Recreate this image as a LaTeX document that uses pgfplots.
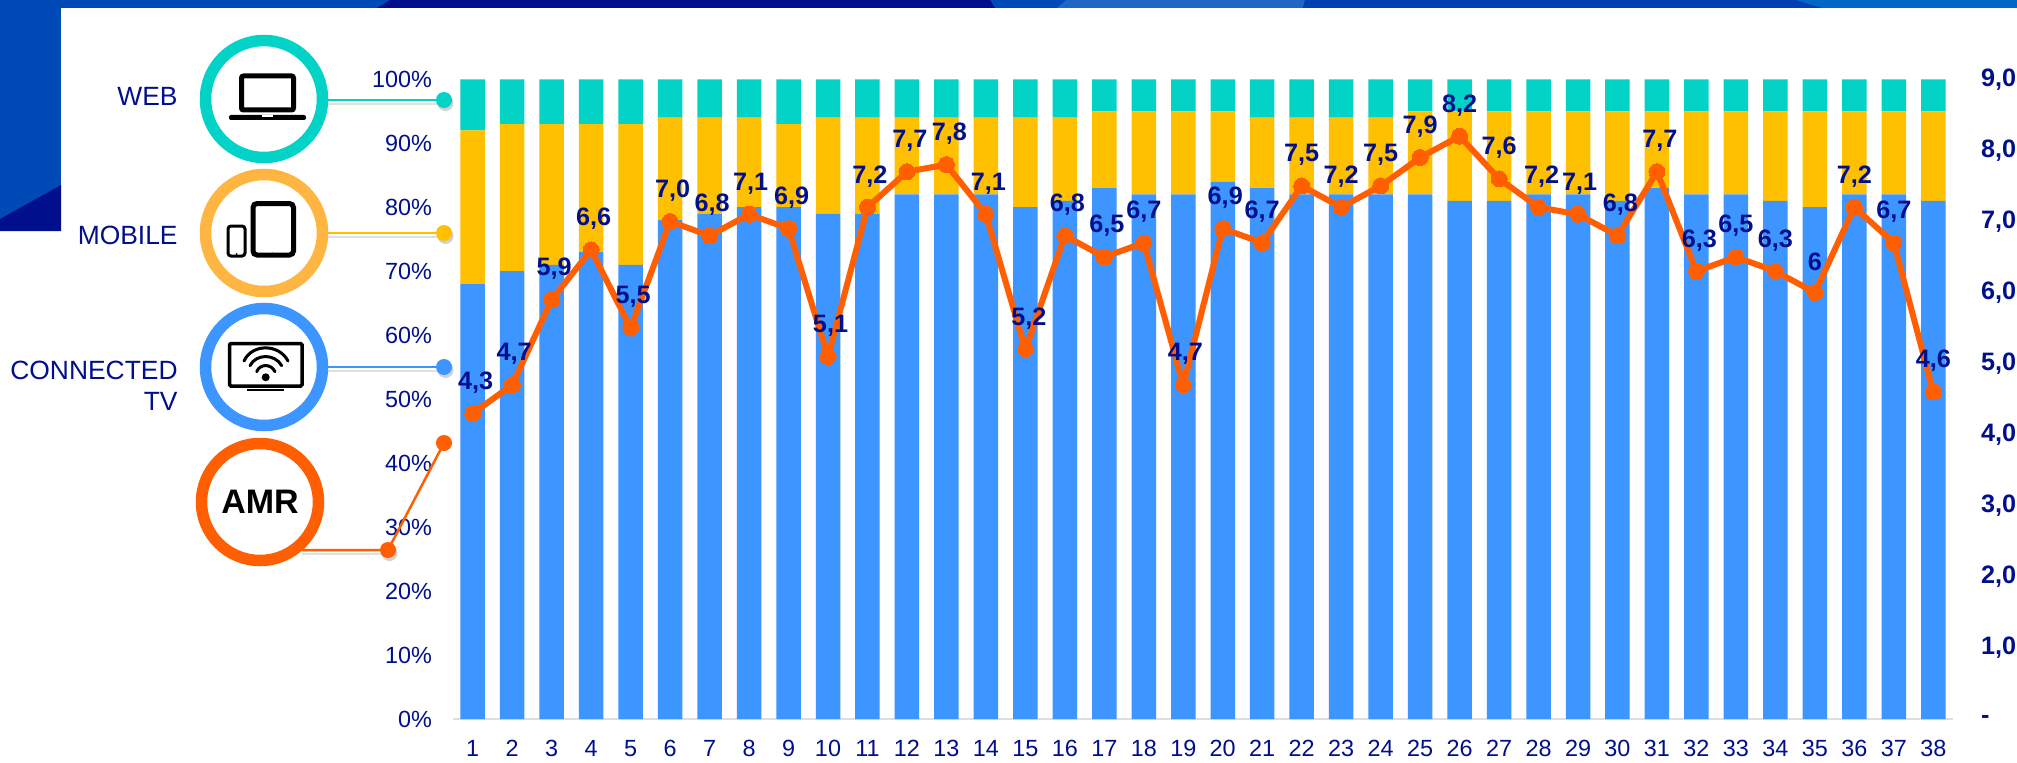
\documentclass[border=0pt]{standalone}
\usepackage{pgfplots}
\usepackage{pgfplotstable}
\usepackage{fontspec}
\setmainfont{Liberation Sans}
\pgfplotsset{compat=1.18}
\definecolor{cteal}{HTML}{03D2C6}
\definecolor{cyel}{HTML}{FFC000}
\definecolor{cblue}{HTML}{3D95FF}
\definecolor{corg}{HTML}{FF5F00}
\definecolor{cring}{HTML}{FFB541}
\definecolor{cnavy}{HTML}{000F8C}
\definecolor{bgA}{HTML}{004AB8}
\definecolor{bgB}{HTML}{000F8C}
\definecolor{bgC}{HTML}{2066C4}
\definecolor{bgD}{HTML}{0040B0}
\definecolor{bgE}{HTML}{0066C8}
\pgfplotstableread{
n blue mobile web amr dx lbl
1 68 24 8 4.3 1.5 4,3
2 70 23 7 4.7 1.0 4,7
3 71 22 7 5.9 1.25 5,9
4 73 20 7 6.6 1.25 6,6
5 71 22 7 5.5 1.25 5,5
6 78 16 6 7.0 1.25 7,0
7 79 15 6 6.8 1.25 6,8
8 80 14 6 7.1 0.75 7,1
9 80 13 7 6.9 1.5 6,9
10 79 15 6 5.1 1.25 5,1
11 79 15 6 7.2 1.25 7,2
12 82 12 6 7.7 1.5 7,7
13 82 12 6 7.8 1.5 7,8
14 82 12 6 7.1 1.25 7,1
15 80 14 6 5.2 1.75 5,2
16 81 13 6 6.8 1.25 6,8
17 83 12 5 6.5 1.25 6,5
18 82 13 5 6.7 0 6,7
19 82 13 5 4.7 1.0 4,7
20 84 11 5 6.9 1.25 6,9
21 83 11 6 6.7 0 6,7
22 82 12 6 7.5 0 7,5
23 82 12 6 7.2 0 7,2
24 82 12 6 7.5 0 7,5
25 82 13 5 7.9 0 7,9
26 81 14 5 8.2 0 8,2
27 81 14 5 7.6 0 7,6
28 82 13 5 7.2 1.5 7,2
29 82 13 5 7.1 0.75 7,1
30 81 14 5 6.8 1.5 6,8
31 83 12 5 7.7 1.5 7,7
32 82 13 5 6.3 1.5 6,3
33 82 13 5 6.5 0 6,5
34 81 14 5 6.3 0 6,3
35 80 15 5 6 0 6
36 82 13 5 7.2 0 7,2
37 82 13 5 6.7 0 6,7
38 81 14 5 4.6 0 4,6
}\chartdata
\begin{document}
\begin{tikzpicture}
\useasboundingbox (0pt,0pt) rectangle (1008.5pt,381pt);
\begin{scope}[x=0.5pt,y=-0.5pt,yshift=381pt]
\fill[white] (0,0) rectangle (2017,762);
% decorative frame
\fill[bgA] (0,0) rectangle (2017,8);
\fill[bgA] (0,0) rectangle (61,231);
\fill[bgB] (0,219) -- (61,185) -- (61,231) -- (0,231) -- cycle;
\fill[bgB] (377,8) -- (390,0) -- (990,0) -- (995,8) -- cycle;
\fill[bgC] (1057,8) -- (1066,0) -- (1305,0) -- (1303,8) -- cycle;
\fill[bgD] (1303,8) -- (1305,0) -- (1796,0) -- (1822,8) -- cycle;
\fill[bgE] (1822,8) -- (1796,0) -- (2017,0) -- (2017,8) -- cycle;
\end{scope}

% stacked bars, left axis
\begin{axis}[
  at={(226.5pt,21.5pt)}, anchor=south west,
  scale only axis, width=750pt, height=319.85pt,
  ybar stacked, bar width=12.25pt,
  xmin=0.5, xmax=38.5, ymin=0, ymax=100,
  axis y line*=left, axis x line*=bottom,
  axis line style={draw=black!13, line width=0.75pt},
  y axis line style={draw=none},
  xtick={1,...,38}, ytick={0,10,...,100},
  yticklabels={0\%,10\%,20\%,30\%,40\%,50\%,60\%,70\%,80\%,90\%,100\%},
  xticklabel={\pgfmathprintnumber{\tick}},
  /pgf/number format/assume math mode=true,
  tick style={draw=none}, major tick length=0pt,
  ticklabel style={font=\fontsize{11.7}{13}\selectfont, text=cnavy},
  xticklabel shift=7pt,
  yticklabel shift=7pt,
]
\addplot[fill=cblue, draw=none] table[x=n,y=blue]{\chartdata};
\addplot[fill=cyel, draw=none] table[x=n,y=mobile]{\chartdata};
\addplot[fill=cteal, draw=none] table[x=n,y=web]{\chartdata};
\end{axis}

% AMR line, right axis
\begin{axis}[
  at={(226.5pt,21.5pt)}, anchor=south west,
  scale only axis, width=750pt, height=319.85pt,
  xmin=0.5, xmax=38.5, ymin=0, ymax=9,
  axis y line*=right, axis x line=none,
  y axis line style={draw=none},
  ytick={0,1,...,9},
  yticklabels={-,{1,0},{2,0},{3,0},{4,0},{5,0},{6,0},{7,0},{8,0},{9,0}},
  /pgf/number format/assume math mode=true,
  tick style={draw=none}, major tick length=0pt,
  yticklabel style={font=\fontsize{12.6}{14}\selectfont\bfseries, text=cnavy},
  yticklabel shift=10.5pt,
  clip=false,
]
\addplot[corg, line width=3pt, mark=*, mark size=4pt,
  mark options={fill=corg, draw=corg, line width=0pt},
  visualization depends on={\thisrow{dx} \as \labdx},
  point meta=explicit symbolic,
  nodes near coords,
  every node near coord/.append style={anchor=center, inner sep=0pt,
    xshift=\labdx pt, yshift=15.5pt, text=cnavy,
    font=\fontsize{12.6}{14}\selectfont\bfseries},
] table[x=n,y=amr,meta=lbl]{\chartdata};
\end{axis}

% legend callouts and icons
\begin{scope}[x=0.5pt,y=-0.5pt,yshift=381pt]
% shadows of the callouts
\foreach \yy in {100,233,367} {
  \fill[black,opacity=0.12] (328,\yy+3) rectangle (444,\yy+5);
  \fill[black,opacity=0.18] (445.5,\yy+3) circle[radius=8];
}
\fill[black,opacity=0.12] (302,553) rectangle (388,555);
\fill[black,opacity=0.18] (389.5,553) circle[radius=8];
% connectors
\draw[cteal,line width=1.25pt] (325,100) -- (444,100);
\fill[cteal] (444,100) circle[radius=8];
\draw[cyel,line width=1.25pt] (325,233) -- (444,233);
\fill[cyel] (444,233) circle[radius=8];
\draw[cblue,line width=1.25pt] (325,367) -- (444,367);
\fill[cblue] (444,367) circle[radius=8];
\draw[corg,line width=1.25pt] (302,550) -- (388,550) -- (444,443);
\fill[corg] (388,550) circle[radius=8];
\fill[corg] (444,443) circle[radius=8];
% rings
\draw[cteal,line width=5.75pt,fill=white] (264,99) circle[radius=58.5];
\draw[cring,line width=5.75pt,fill=white] (264,233) circle[radius=58.5];
\draw[cblue,line width=5.75pt,fill=white] (264,367) circle[radius=58.5];
\draw[corg,line width=5.75pt,fill=white] (260,502) circle[radius=58.5];
% laptop
\draw[black,line width=2.5pt,rounded corners=1pt] (241.5,76) rectangle (293.5,110);
\fill[black,rounded corners=1pt] (229,115) rectangle (306,120);
\fill[white] (262,115) rectangle (273,117);
% tablet and phone
\draw[black,line width=2.5pt,rounded corners=2pt] (253,203.5) rectangle (293.5,255);
\fill[black] (272.7,254) circle[radius=1.5];
\draw[black,line width=1.5pt,rounded corners=1.5pt] (228,226) rectangle (245,256);
\fill[black] (236.5,254) circle[radius=1];
% connected TV
\draw[black,line width=1.75pt,rounded corners=0.7pt] (229.5,343.5) rectangle (302,386);
\draw[black,line width=1.25pt] (247,390) -- (284,390);
\fill[black] (265.7,377.3) circle[radius=4];
\draw[black,line width=1.5pt,line cap=round] (244,361) .. controls (252,343.5) and (279,343.5) .. (288,361);
\draw[black,line width=1.5pt,line cap=round] (250,365.7) .. controls (256,353.5) and (275,353.5) .. (281.7,365.7);
\draw[black,line width=1.5pt,line cap=round] (256.7,371.7) .. controls (260,363.5) and (271,363.5) .. (275,371.7);
% texts
\node[anchor=east,inner sep=0pt,text=cnavy,font=\fontsize{13.2}{15}\selectfont] at (178,96) {WEB};
\node[anchor=east,inner sep=0pt,text=cnavy,font=\fontsize{13.2}{15}\selectfont] at (178,235) {MOBILE};
\node[anchor=east,inner sep=0pt,text=cnavy,font=\fontsize{13.2}{15}\selectfont] at (178,370) {CONNECTED};
\node[anchor=east,inner sep=0pt,text=cnavy,font=\fontsize{13.2}{15}\selectfont] at (178,401) {TV};
\node[inner sep=0pt,text=black,font=\fontsize{17}{19}\selectfont\bfseries] at (260,502) {AMR};
\end{scope}
\end{tikzpicture}
\end{document}
